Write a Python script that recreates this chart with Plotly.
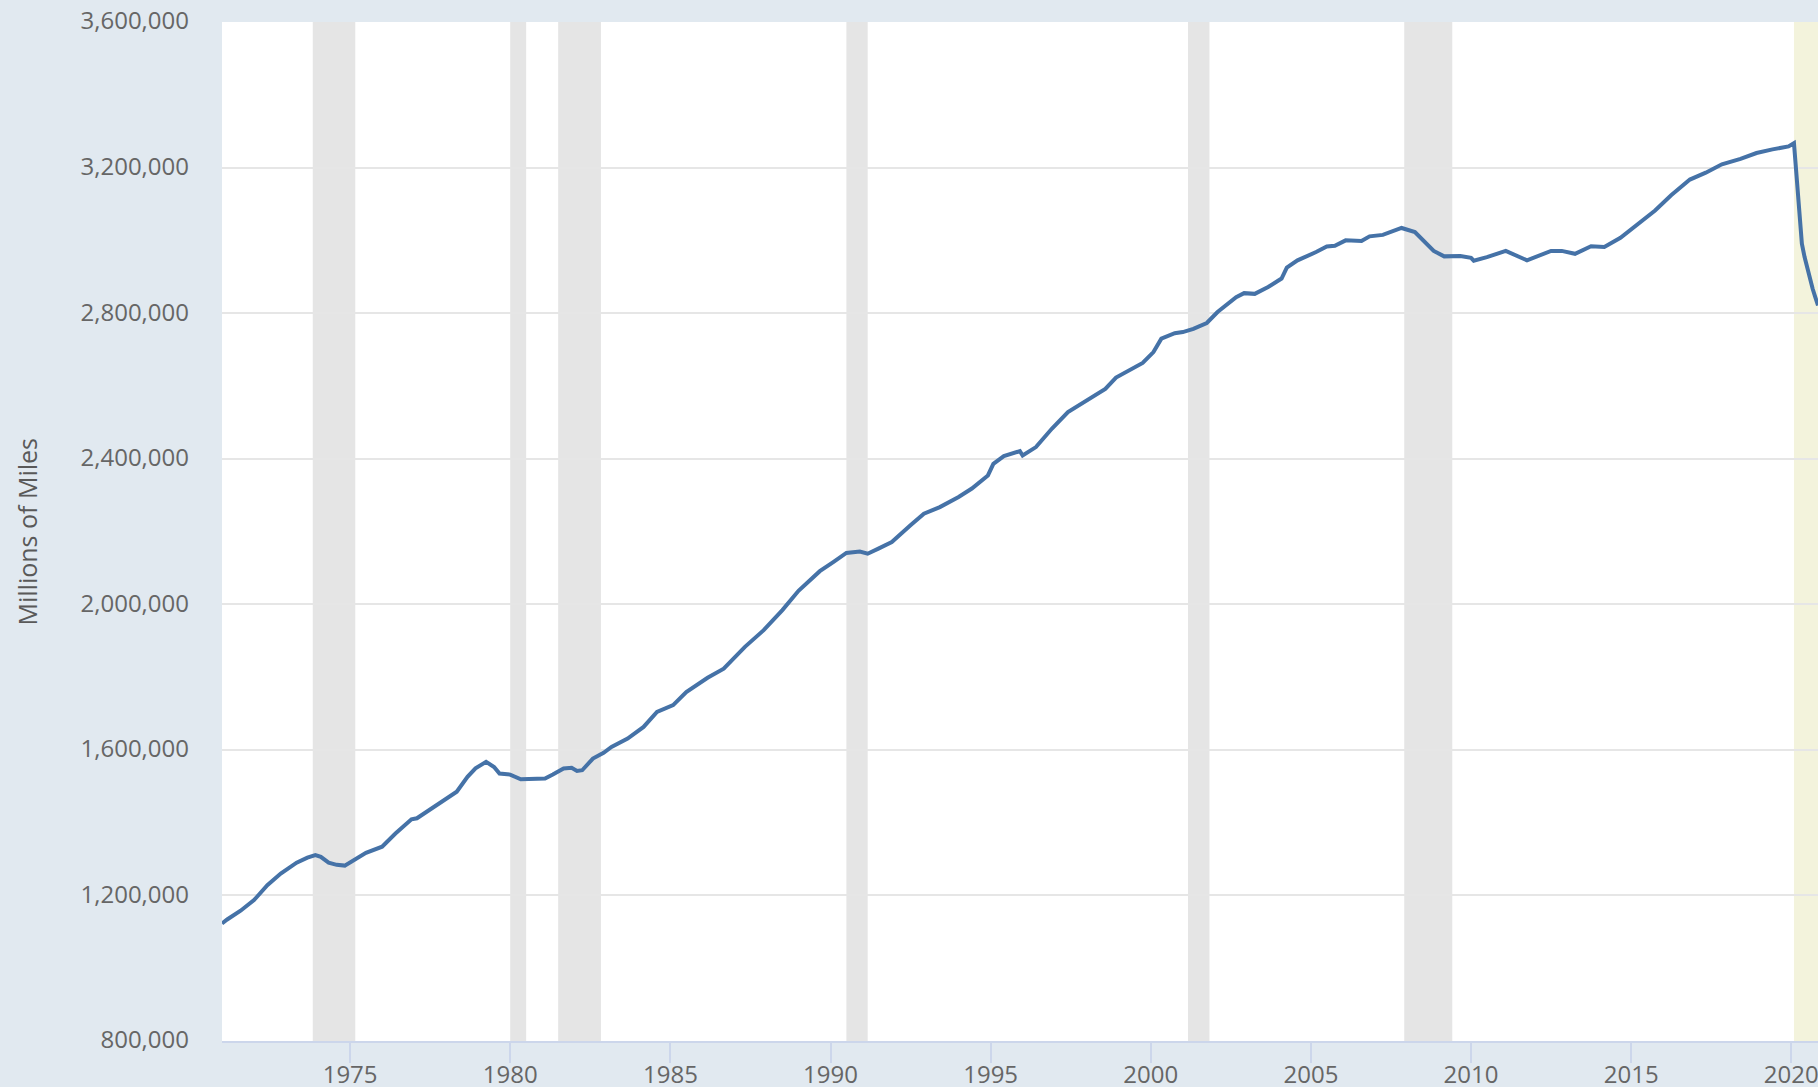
import plotly.graph_objects as go

# Moving 12-month total vehicle miles traveled (millions of miles)
dates = [
    "1971-01-01", "1971-03-01", "1971-08-01", "1972-01-01", "1972-06-01", "1972-11-01",
    "1973-05-01", "1973-09-01", "1973-12-01", "1974-02-01", "1974-05-01", "1974-08-01",
    "1974-11-01", "1975-02-01", "1975-07-01", "1976-01-01", "1976-06-01", "1976-12-01",
    "1977-02-01", "1977-07-01", "1978-01-01", "1978-05-01", "1978-09-01", "1978-12-01",
    "1979-04-01", "1979-07-01", "1979-09-01", "1980-01-01", "1980-05-01", "1980-10-01",
    "1981-02-01", "1981-05-01", "1981-09-01", "1981-12-01", "1982-02-01", "1982-04-01",
    "1982-08-01", "1982-12-01", "1983-03-01", "1983-09-01", "1984-01-01", "1984-03-01",
    "1984-08-01", "1985-02-01", "1985-07-01", "1986-03-01", "1986-09-01", "1987-05-01",
    "1987-12-01", "1988-07-01", "1989-01-01", "1989-09-01", "1990-02-01", "1990-07-01",
    "1990-12-01", "1991-03-01", "1991-07-01", "1991-12-01", "1992-07-01", "1992-12-01",
    "1993-06-01", "1994-01-01", "1994-06-01", "1994-12-01", "1995-02-01", "1995-06-01",
    "1995-12-01", "1996-01-01", "1996-06-01", "1996-12-01", "1997-06-01", "1998-02-01",
    "1998-08-01", "1998-12-01", "1999-03-01", "1999-10-01", "2000-02-01", "2000-05-01",
    "2000-10-01", "2001-01-01", "2001-05-01", "2001-10-01", "2002-02-01", "2002-09-01",
    "2002-12-01", "2003-04-01", "2003-09-01", "2004-02-01", "2004-04-01", "2004-08-01",
    "2005-03-01", "2005-07-01", "2005-10-01", "2006-02-01", "2006-08-01", "2006-11-01",
    "2007-04-01", "2007-08-01", "2007-11-01", "2008-04-01", "2008-08-01", "2008-11-01",
    "2009-03-01", "2009-09-01", "2010-01-01", "2010-02-01", "2010-07-01", "2011-02-01",
    "2011-10-01", "2012-07-01", "2012-11-01", "2013-04-01", "2013-10-01", "2014-03-01",
    "2014-09-01", "2015-04-01", "2015-10-01", "2016-04-01", "2016-11-01", "2017-05-01",
    "2017-11-01", "2018-06-01", "2018-12-01", "2019-06-01", "2019-12-01", "2020-02-01",
    "2020-03-01", "2020-04-01", "2020-05-01", "2020-06-01", "2020-07-01", "2020-08-01",
    "2020-09-01", "2020-10-01", "2020-11-01",
]
miles = [
    1123000, 1134000, 1158000, 1187000, 1228000, 1260000,
    1290000, 1304000, 1311000, 1306000, 1290000, 1284000,
    1282000, 1295000, 1317000, 1334000, 1370000, 1409000,
    1412000, 1436000, 1466000, 1485000, 1526000, 1549000,
    1567000, 1553000, 1535000, 1532000, 1519000, 1519000,
    1521000, 1532000, 1549000, 1551000, 1542000, 1544000,
    1576000, 1592000, 1608000, 1631000, 1652000, 1663000,
    1704000, 1723000, 1759000, 1798000, 1823000, 1883000,
    1929000, 1984000, 2037000, 2091000, 2116000, 2141000,
    2145000, 2139000, 2153000, 2171000, 2217000, 2249000,
    2267000, 2295000, 2318000, 2354000, 2386000, 2407000,
    2421000, 2409000, 2432000, 2483000, 2528000, 2565000,
    2592000, 2623000, 2635000, 2663000, 2693000, 2730000,
    2745000, 2748000, 2757000, 2773000, 2803000, 2844000,
    2855000, 2853000, 2872000, 2895000, 2925000, 2945000,
    2968000, 2983000, 2985000, 3000000, 2998000, 3011000,
    3015000, 3025000, 3034000, 3023000, 2995000, 2971000,
    2956000, 2957000, 2952000, 2944000, 2954000, 2971000,
    2945000, 2971000, 2971000, 2963000, 2984000, 2982000,
    3007000, 3048000, 3082000, 3124000, 3167000, 3186000,
    3209000, 3224000, 3240000, 3250000, 3258000, 3267000,
    3174000, 3055000, 2991000, 2954000, 2922000, 2895000,
    2867000, 2844000, 2821000,
]

recession_starts = ["1973-11-01", "1980-01-01", "1981-07-01", "1990-07-01", "2001-03-01", "2007-12-01"]
recession_ends = ["1975-03-01", "1980-07-01", "1982-11-01", "1991-03-01", "2001-11-01", "2009-06-01"]
prelim_start = "2020-02-01"
prelim_end = "2020-11-01"

x_range = ["1971-01-01", "2020-11-01"]
y_range = [800000, 3600000]
y_ticks = [800000, 1200000, 1600000, 2000000, 2400000, 2800000, 3200000, 3600000]
x_ticks = ["1975-01-01", "1980-01-01", "1985-01-01", "1990-01-01", "1995-01-01",
           "2000-01-01", "2005-01-01", "2010-01-01", "2015-01-01", "2020-01-01"]
y_title = "Millions of Miles"

FONT = "Open Sans"
TXT = "#666666"

fig = go.Figure()
fig.add_trace(go.Scatter(
    x=dates, y=miles, mode="lines",
    line=dict(color="#4572a7", width=4),
    hoverinfo="x+y", showlegend=False, cliponaxis=True,
))

shapes = []
for s, e in zip(recession_starts, recession_ends):
    shapes.append(dict(type="rect", xref="x", yref="paper", x0=s, x1=e, y0=0, y1=1,
                       fillcolor="#e5e5e5", line=dict(width=0), layer="below"))
shapes.append(dict(type="rect", xref="x", yref="paper", x0=prelim_start, x1=prelim_end, y0=0, y1=1,
                   fillcolor="#f3f3dc", line=dict(width=0), layer="below"))

fig.update_layout(
    width=1818, height=1087,
    margin=dict(l=222, r=0, t=22, b=46, pad=0, autoexpand=False),
    paper_bgcolor="#e1e9f0",
    plot_bgcolor="#ffffff",
    font=dict(family=FONT, size=24, color=TXT),
    shapes=shapes,
    showlegend=False,
    annotations=[dict(
        text=y_title, xref="paper", yref="paper", x=(26 - 222) / 1596, y=0.5,
        xanchor="center", yanchor="middle", textangle=-90, showarrow=False,
        font=dict(family=FONT, size=25, color="#595959"),
    )],
)
fig.update_xaxes(
    type="date", range=x_range, tickvals=x_ticks, tickformat="%Y",
    showgrid=False, zeroline=False, automargin=False,
    showline=True, linecolor="#ccd6eb", linewidth=2,
    ticks="outside", ticklen=20, tickwidth=2, tickcolor="#ccd6eb",
    ticklabelstandoff=-9, ticklabeloverflow="allow",
    tickfont=dict(family=FONT, size=24, color=TXT),
)
fig.update_yaxes(
    range=y_range, tickvals=y_ticks, tickformat=",",
    showgrid=True, gridcolor="#e6e6e6", gridwidth=2, zeroline=False,
    showline=False, ticks="", automargin=False,
    ticklabelstandoff=32, ticklabelshift=-1, ticklabeloverflow="allow",
    tickfont=dict(family=FONT, size=24, color=TXT),
)

fig.write_html(
    "out.html",
    config={"displayModeBar": False},
    post_script="document.body.style.margin='0';document.body.style.padding='0';"
                "document.body.style.overflow='hidden';"
                "document.documentElement.style.overflow='hidden';",
)
